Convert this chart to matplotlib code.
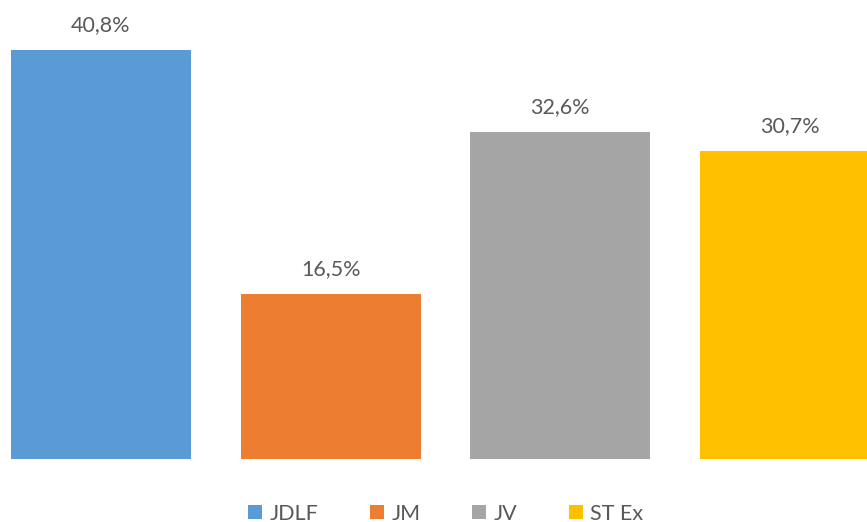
import numpy as np
import matplotlib.pyplot as plt
from matplotlib.patches import Patch

categories = ["JDLF", "JM", "JV", "ST Ex"]
values = [40.8, 16.5, 32.6, 30.7]
labels = ["40,8%", "16,5%", "32,6%", "30,7%"]
colors = ["#5B9BD5", "#ED7D31", "#A5A5A5", "#FFC000"]

plt.rcParams['font.family'] = ['Lato', 'DejaVu Sans']
text_color = "#595959"

fig = plt.figure(figsize=(8.67, 5.22), dpi=100)
ax = fig.add_axes([0, 63 / 522, 1, 459 / 522])

x = np.arange(len(categories))
bars = ax.bar(x, values, width=0.784, color=colors)

# etichete deasupra barelor
for xi, v, lab in zip(x, values, labels):
    ax.annotate(lab, (xi, v), xytext=(0, 18), textcoords="offset points",
                ha="center", va="center", fontsize=15.5, color=text_color)

px = 229.67
ax.set_xlim(-101 / px, 3 + (867 - 790) / px)
ax.set_ylim(0, 459 / 10.02)
ax.axis("off")

handles = [Patch(facecolor=c) for c in colors]
fig.legend(handles, categories, loc="center", bbox_to_anchor=(0.514, 0.016),
           ncol=4, frameon=False, fontsize=15.5, labelcolor=text_color,
           handlelength=0.65, handleheight=0.65, handletextpad=0.35,
           columnspacing=2.4)

fig.savefig("out.png", dpi=100)
